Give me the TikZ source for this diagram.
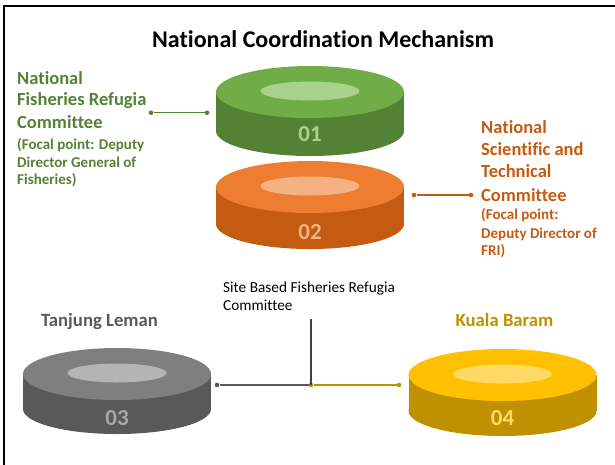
\documentclass[tikz,border=0pt]{standalone}
\usepackage{fontspec}
\setmainfont{Carlito}[Ligatures={NoCommon,NoRequired,NoContextual}]
\definecolor{gTop}{HTML}{70AD47}
\definecolor{gSide}{HTML}{548235}
\definecolor{gIn}{HTML}{A9D18E}
\definecolor{oTop}{HTML}{ED7D31}
\definecolor{oSide}{HTML}{C55A11}
\definecolor{oIn}{HTML}{F4B183}
\definecolor{kTop}{HTML}{7F7F7F}
\definecolor{kSide}{HTML}{595959}
\definecolor{kIn}{HTML}{B4B4B4}
\definecolor{kLbl}{HTML}{A6A6A6}
\definecolor{yTop}{HTML}{FFC000}
\definecolor{ySide}{HTML}{BF9000}
\definecolor{yIn}{HTML}{FFD966}
\definecolor{vline}{HTML}{404040}
\newcommand{\drawdisc}[6]{%
  \fill[#5] (#1-94,#2) rectangle (#1+94,#2+#3);
  \fill[#5] (#1,#2+#3) ellipse [x radius=94pt, y radius=25pt];
  \fill[#4] (#1,#2) ellipse [x radius=94pt, y radius=26pt];
  \fill[#6] (#1,#2-1) ellipse [x radius=49.5pt, y radius=9.5pt];
}
\tikzset{
  big/.style={font=\fontsize{18.5}{22}\selectfont\bfseries, anchor=base west, inner sep=0pt},
  small/.style={font=\fontsize{15}{18}\selectfont\bfseries, anchor=base west, inner sep=0pt},
  num/.style={font=\fontsize{23}{27}\selectfont\bfseries, inner sep=0pt},
  site/.style={font=\fontsize{18.7}{22}\selectfont\bfseries, anchor=base, inner sep=0pt},
  plain/.style={font=\fontsize{15.3}{18}\selectfont, anchor=base west, inner sep=0pt},
  conn/.style={line width=1.2pt},
  dot/.style={circle, fill, inner sep=0pt, minimum size=4.6pt},
}
\begin{document}
\begin{tikzpicture}[x=1pt,y=-1pt]
\useasboundingbox (0,0) rectangle (615,464);
\clip (0,0) rectangle (615,464);
\draw[line width=2.2pt] (4.2,470) -- (4.2,6.3) -- (620,6.3);

\node[font=\fontsize{24}{28}\selectfont\bfseries, inner sep=0pt] (title) at (323,39) {National Coordination Mechanism};

% discs
\drawdisc{310}{92}{39}{gTop}{gSide}{gIn}
\drawdisc{310}{187}{37}{oTop}{oSide}{oIn}
\drawdisc{117}{374}{35}{kTop}{kSide}{kIn}
\drawdisc{502.5}{375}{36}{yTop}{ySide}{yIn}
\node[num, text=gIn] (n01) at (310,134.5) {01};
\node[num, text=oIn] (n02) at (310,232.5) {02};
\node[num, text=kLbl] (n03) at (117,418) {03};
\node[num, text=yIn] (n04) at (502.5,418) {04};

% green text
\begin{scope}[text=gSide]
\node[big] (g1) at (17,84) {National};
\node[big] (g2) at (17,105) {Fisheries Refugia};
\node[big] (g3) at (17,128) {Committee};
\node[small] (g4) at (17,149) {(Focal point: Deputy};
\node[small] (g5) at (17,167) {Director General of};
\node[small] (g6) at (17,184) {Fisheries)};
\end{scope}
\node[dot, gSide] (gA) at (151,112.7) {};
\node[dot, gSide] (gB) at (207,112.7) {};
\draw[conn, gSide] (gA) -- (gB);

% orange text
\begin{scope}[text=oSide]
\node[big] (o1) at (481,133) {National};
\node[big] (o2) at (481,155) {Scientific and};
\node[big] (o3) at (481,177) {Technical};
\node[big] (o4) at (481,201) {Committee};
\node[small] (o5) at (481,219) {(Focal point:};
\node[small] (o6) at (481,238) {Deputy Director of};
\node[small] (o7) at (481,255) {FRI)};
\end{scope}
\node[dot, oSide] (oA) at (414,195) {};
\node[dot, oSide] (oB) at (471,195) {};
\draw[conn, oSide] (oA) -- (oB);

% site committee
\node[plain] (s1) at (223,292.5) {Site Based Fisheries Refugia};
\node[plain] (s2) at (223,310) {Committee};
\node[site, text=kSide] (tl) at (99.5,326) {Tanjung Leman};
\node[site, text=ySide] (kb) at (504.5,326) {Kuala Baram};

\coordinate (vTop) at (311,319);
\node[dot, kSide] (lEnd) at (217,385) {};
\node[dot, ySide] (jn) at (311,385) {};
\node[dot, ySide] (rEnd) at (399,385) {};
\draw[line width=1.2pt, vline] (vTop) -- (jn.center);
\draw[conn, kSide] (lEnd) -- (jn);
\draw[conn, ySide] (jn) -- (rEnd);
\end{tikzpicture}
\end{document}
